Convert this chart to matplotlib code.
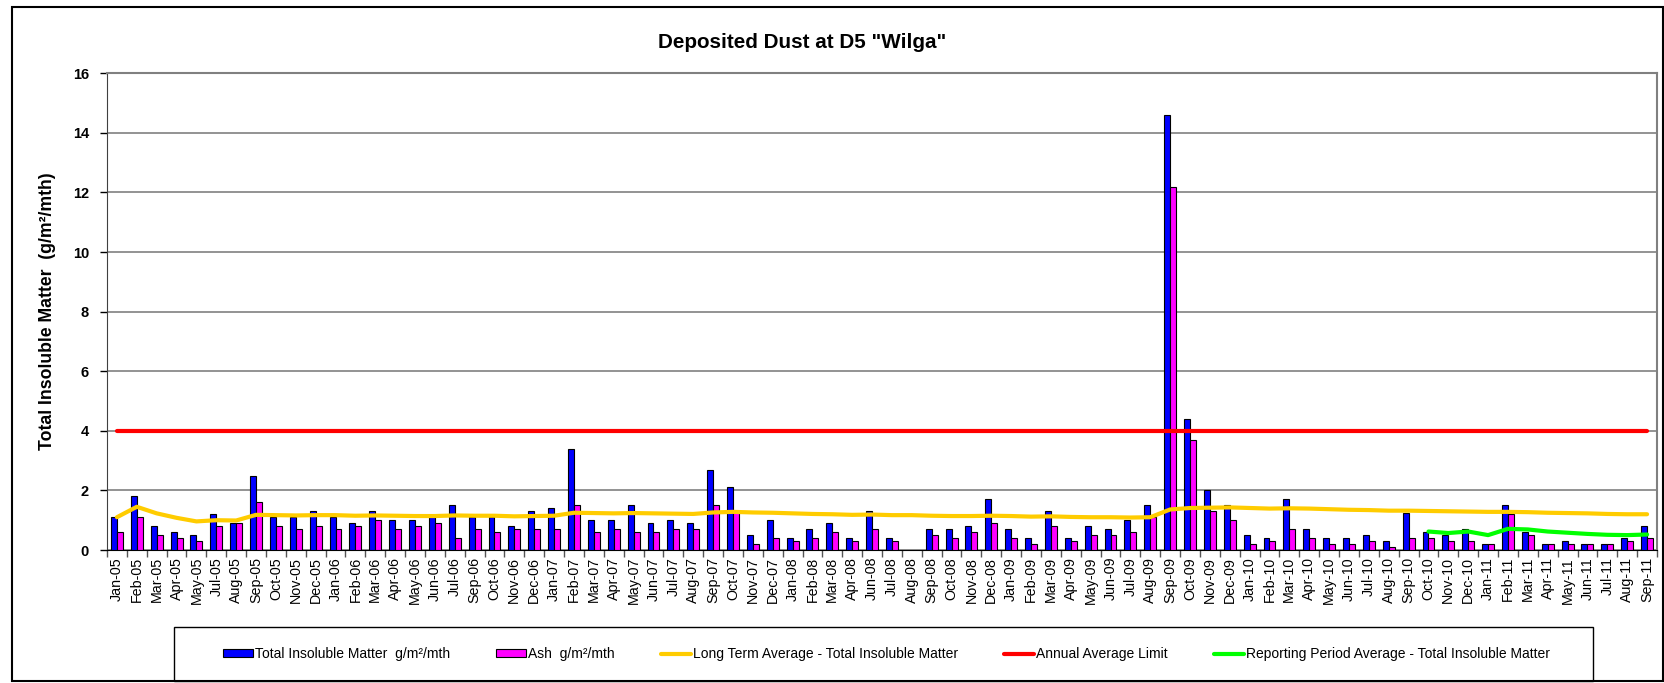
import numpy as np
import matplotlib
matplotlib.use("Agg")
import matplotlib.pyplot as plt
from matplotlib.patches import Rectangle

plt.rcParams['font.family'] = ['Liberation Sans', 'DejaVu Sans']

months = ["Jan-05", "Feb-05", "Mar-05", "Apr-05", "May-05", "Jul-05", "Aug-05", "Sep-05", "Oct-05", "Nov-05", "Dec-05",
          "Jan-06", "Feb-06", "Mar-06", "Apr-06", "May-06", "Jun-06", "Jul-06", "Sep-06", "Oct-06", "Nov-06", "Dec-06",
          "Jan-07", "Feb-07", "Mar-07", "Apr-07", "May-07", "Jun-07", "Jul-07", "Aug-07", "Sep-07", "Oct-07", "Nov-07", "Dec-07",
          "Jan-08", "Feb-08", "Mar-08", "Apr-08", "Jun-08", "Jul-08", "Aug-08", "Sep-08", "Oct-08", "Nov-08", "Dec-08",
          "Jan-09", "Feb-09", "Mar-09", "Apr-09", "May-09", "Jun-09", "Jul-09", "Aug-09", "Sep-09", "Oct-09", "Nov-09", "Dec-09",
          "Jan-10", "Feb-10", "Mar-10", "Apr-10", "May-10", "Jun-10", "Jul-10", "Aug-10", "Sep-10", "Oct-10", "Nov-10", "Dec-10",
          "Jan-11", "Feb-11", "Mar-11", "Apr-11", "May-11", "Jun-11", "Jul-11", "Aug-11", "Sep-11"]

total_insoluble = [1.1, 1.8, 0.8, 0.6, 0.5, 1.2, 0.9, 2.5, 1.1, 1.1, 1.3,
                   1.1, 0.9, 1.3, 1.0, 1.0, 1.1, 1.5, 1.1, 1.1, 0.8, 1.3,
                   1.4, 3.4, 1.0, 1.0, 1.5, 0.9, 1.0, 0.9, 2.7, 2.1, 0.5, 1.0,
                   0.4, 0.7, 0.9, 0.4, 1.3, 0.4, np.nan, 0.7, 0.7, 0.8, 1.7,
                   0.7, 0.4, 1.3, 0.4, 0.8, 0.7, 1.0, 1.5, 14.6, 4.4, 2.0, 1.5,
                   0.5, 0.4, 1.7, 0.7, 0.4, 0.4, 0.5, 0.3, 1.25, 0.6, 0.5, 0.7,
                   0.2, 1.5, 0.6, 0.2, 0.3, 0.2, 0.2, 0.4, 0.8]

ash = [0.6, 1.1, 0.5, 0.4, 0.3, 0.8, 0.9, 1.6, 0.8, 0.7, 0.8,
       0.7, 0.8, 1.0, 0.7, 0.8, 0.9, 0.4, 0.7, 0.6, 0.7, 0.7,
       0.7, 1.5, 0.6, 0.7, 0.6, 0.6, 0.7, 0.7, 1.5, 1.3, 0.2, 0.4,
       0.3, 0.4, 0.6, 0.3, 0.7, 0.3, np.nan, 0.5, 0.4, 0.6, 0.9,
       0.4, 0.2, 0.8, 0.3, 0.5, 0.5, 0.6, 1.1, 12.2, 3.7, 1.3, 1.0,
       0.2, 0.3, 0.7, 0.4, 0.2, 0.2, 0.3, 0.1, 0.4, 0.4, 0.3, 0.3,
       0.2, 1.2, 0.5, 0.2, 0.2, 0.2, 0.2, 0.3, 0.4]

long_term_avg = [1.10, 1.45, 1.23, 1.08, 0.96, 1.00, 0.99, 1.18, 1.17, 1.16, 1.17,
                 1.17, 1.15, 1.16, 1.15, 1.14, 1.14, 1.16, 1.15, 1.15, 1.13, 1.14,
                 1.15, 1.25, 1.24, 1.23, 1.24, 1.23, 1.22, 1.21, 1.26, 1.28, 1.26, 1.25,
                 1.23, 1.21, 1.20, 1.18, 1.19, 1.17, 1.17, 1.15, 1.14, 1.14, 1.15,
                 1.14, 1.12, 1.13, 1.11, 1.10, 1.10, 1.09, 1.10, 1.36, 1.41, 1.42, 1.43,
                 1.41, 1.39, 1.40, 1.39, 1.37, 1.35, 1.34, 1.32, 1.32, 1.31, 1.30, 1.29,
                 1.28, 1.28, 1.27, 1.25, 1.24, 1.23, 1.21, 1.20, 1.20]

annual_limit = 4.0

reporting_months = ["Oct-10", "Nov-10", "Dec-10", "Jan-11", "Feb-11", "Mar-11",
                    "Apr-11", "May-11", "Jun-11", "Jul-11", "Aug-11", "Sep-11"]
reporting_avg = [0.62, 0.57, 0.62, 0.50, 0.71, 0.69, 0.62, 0.58, 0.54, 0.51, 0.50, 0.52]

yticks = [0, 2, 4, 6, 8, 10, 12, 14, 16]

W, H = 1665, 683
fig = plt.figure(figsize=(W / 100, H / 100), dpi=100)
fig.patches.append(Rectangle((12 / W, 2 / H), (W - 14) / W, (H - 9) / H, transform=fig.transFigure,
                             fill=False, edgecolor='black', linewidth=1.5))
# legend frame
fig.patches.append(Rectangle((174 / W, 1 - 681 / H), (1593 - 174) / W, 54 / H, transform=fig.transFigure,
                             fill=False, edgecolor='black', linewidth=1.0))

ax = fig.add_axes([107 / W, 1 - 550 / H, (1657 - 107) / W, (550 - 73.3) / H])

x = np.arange(len(months))
bw = 0.3
h1 = ax.bar(x - bw / 2, total_insoluble, width=bw, color='#0000FF', edgecolor='black', linewidth=0.8,
            label='Total Insoluble Matter  g/m²/mth', zorder=3)
h2 = ax.bar(x + bw / 2, ash, width=bw, color='#FF00FF', edgecolor='black', linewidth=0.8,
            label='Ash  g/m²/mth', zorder=3)
h3, = ax.plot(x, long_term_avg, color='#FFCC00', linewidth=3, solid_capstyle='round',
              label='Long Term Average - Total Insoluble Matter', zorder=4)
h4, = ax.plot(x, [annual_limit] * len(x), color='#FF0000', linewidth=3, solid_capstyle='round',
              label='Annual Average Limit', zorder=4)
rx = [months.index(m) for m in reporting_months]
h5, = ax.plot(rx, reporting_avg, color='#00FF00', linewidth=3, solid_capstyle='round',
              label='Reporting Period Average - Total Insoluble Matter', zorder=4)

ax.set_xlim(-0.5, len(months) - 0.5)
ax.set_ylim(0, 16)
ax.set_yticks(yticks)
ax.set_yticklabels([str(v) for v in yticks], fontsize=10.5, fontweight='bold')
ax.yaxis.grid(True, color='#808080', linewidth=1.2, zorder=0)
ax.tick_params(axis='y', length=5, width=1, color='black', pad=8)

ax.set_xticks(x)
ax.set_xticklabels(months, rotation=90, fontsize=10.3)
ax.tick_params(axis='x', which='major', length=0, pad=5)
ax.set_xticks(np.arange(len(months) + 1) - 0.5, minor=True)
ax.tick_params(axis='x', which='minor', length=5, width=1, color='#555555')

for s in ['top', 'right']:
    ax.spines[s].set_color('#808080')
    ax.spines[s].set_linewidth(1.5)
ax.spines['left'].set_color('#404040')
ax.spines['bottom'].set_color('black')

ax.set_ylabel('Total Insoluble Matter  (g/m²/mth)', fontsize=12.7, fontweight='bold', labelpad=12)

fig.text(802 / W, 1 - 42 / H, 'Deposited Dust at D5 "Wilga"',
         ha='center', va='center', fontsize=14.9, fontweight='bold')

leg = fig.legend(handles=[h1, h2, h3, h4, h5], loc='center', mode='expand',
                 bbox_to_anchor=(223 / W, 1 - 664 / H, (1550 - 223) / W, 20 / H), ncol=5,
                 fontsize=10, frameon=False,
                 handlelength=2.15, handleheight=0.5, handletextpad=0.15, columnspacing=1.0,
                 borderpad=0, borderaxespad=0)

fig.savefig('out.png', dpi=100)
